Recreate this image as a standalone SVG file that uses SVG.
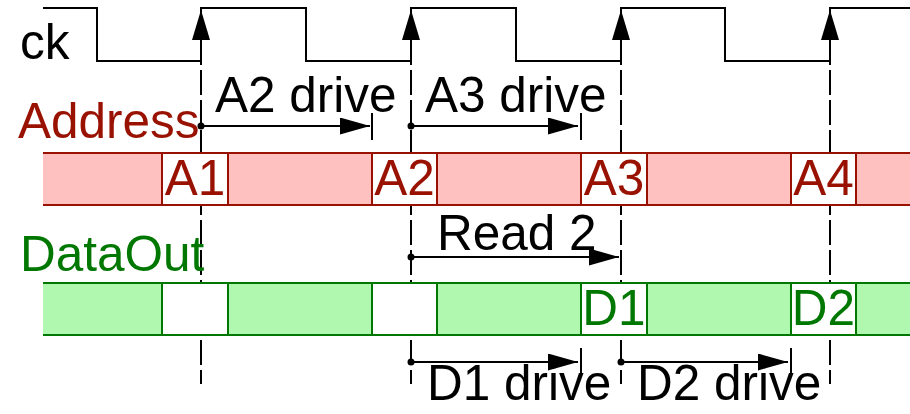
<svg xmlns="http://www.w3.org/2000/svg" width="910" height="414" viewBox="0 0 910 414">
  <style>
    text { font-family: "Liberation Sans", Arial, sans-serif; font-size: 49.5px; }
    .blk { fill: #000000; }
    .red { fill: #991100; }
    .grn { fill: #007700; }
    .wire { fill: none; stroke: #000000; stroke-width: 2; }
    .dash { fill: none; stroke: #000000; stroke-width: 2; stroke-dasharray: 25 5; }
    .abus { fill: #ffc0c0; }
    .dbus { fill: #b0f8b0; }
    .aedge { stroke: #991100; stroke-width: 2; fill: none; }
    .dedge { stroke: #007700; stroke-width: 2; fill: none; }
    .abox { fill: #ffffff; stroke: #991100; stroke-width: 2; }
    .dbox { fill: #ffffff; stroke: #007700; stroke-width: 2; }
    .head { fill: #000000; }
  </style>
  <defs>
    <marker id="arr" viewBox="0 0 30 17" refX="30" refY="8.5" markerWidth="30" markerHeight="17" markerUnits="userSpaceOnUse" orient="auto">
      <path d="M0,0 L30,8.5 L0,17 Z" fill="#000000"/>
    </marker>
    <marker id="dot" viewBox="0 0 8 8" refX="4" refY="4" markerWidth="8" markerHeight="8" markerUnits="userSpaceOnUse">
      <circle cx="4" cy="4" r="3.5" fill="#000000"/>
    </marker>
  </defs>

  <!-- clock edge guide lines -->
  <g id="edges">
    <line class="dash" x1="201" y1="10" x2="201" y2="384"/>
    <line class="dash" x1="411" y1="10" x2="411" y2="384"/>
    <line class="dash" x1="621" y1="10" x2="621" y2="384"/>
    <line class="dash" x1="830" y1="10" x2="830" y2="384"/>
  </g>

  <!-- clock waveform -->
  <g id="ck">
    <text class="blk" x="20" y="59">ck</text>
    <polyline class="wire" points="43,8 97,8 97,61 201,61 201,8 306,8 306,61 411,61 411,8 516,8 516,61 621,61 621,8 725,8 725,61 830,61 830,8 910,8"/>
    <path class="head" d="M201,10 L192,40 L210,40 Z"/>
    <path class="head" d="M411,10 L402,40 L420,40 Z"/>
    <path class="head" d="M621,10 L612,40 L630,40 Z"/>
    <path class="head" d="M830,10 L821,40 L839,40 Z"/>
  </g>

  <!-- address bus -->
  <g id="address">
    <text class="red" x="18" y="138">Address</text>
    <rect class="abus" x="43" y="153" width="880" height="52"/>
    <line class="aedge" x1="43" y1="153" x2="910" y2="153"/>
    <line class="aedge" x1="43" y1="205" x2="910" y2="205"/>
    <rect class="abox" x="162" y="153" width="66" height="52"/>
    <rect class="abox" x="372" y="153" width="65" height="52"/>
    <rect class="abox" x="581" y="153" width="66" height="52"/>
    <rect class="abox" x="791" y="153" width="65" height="52"/>
    <text class="red" x="195" y="195" text-anchor="middle">A1</text>
    <text class="red" x="404.5" y="195" text-anchor="middle">A2</text>
    <text class="red" x="614" y="195" text-anchor="middle">A3</text>
    <text class="red" x="823.5" y="195" text-anchor="middle">A4</text>
  </g>

  <!-- data out bus -->
  <g id="dataout">
    <text class="grn" x="20" y="271">DataOut</text>
    <rect class="dbus" x="43" y="283" width="880" height="52"/>
    <line class="dedge" x1="43" y1="283" x2="910" y2="283"/>
    <line class="dedge" x1="43" y1="335" x2="910" y2="335"/>
    <rect class="dbox" x="162" y="283" width="66" height="52"/>
    <rect class="dbox" x="372" y="283" width="65" height="52"/>
    <rect class="dbox" x="581" y="283" width="66" height="52"/>
    <rect class="dbox" x="791" y="283" width="65" height="52"/>
    <text class="grn" x="614" y="325" text-anchor="middle">D1</text>
    <text class="grn" x="823.5" y="325" text-anchor="middle">D2</text>
  </g>

  <!-- timing intervals -->
  <g id="connectors">
    <line class="wire" x1="201" y1="126" x2="370" y2="126" marker-start="url(#dot)" marker-end="url(#arr)"/>
    <line class="wire" x1="372" y1="113" x2="372" y2="140"/>
    <line class="wire" x1="411" y1="126" x2="578" y2="126" marker-start="url(#dot)" marker-end="url(#arr)"/>
    <line class="wire" x1="581" y1="113" x2="581" y2="140"/>
    <line class="wire" x1="411" y1="257" x2="619" y2="257" marker-start="url(#dot)" marker-end="url(#arr)"/>
    <line class="wire" x1="411" y1="362" x2="578" y2="362" marker-start="url(#dot)" marker-end="url(#arr)"/>
    <line class="wire" x1="581" y1="348" x2="581" y2="376"/>
    <line class="wire" x1="621" y1="362" x2="788" y2="362" marker-start="url(#dot)" marker-end="url(#arr)"/>
    <line class="wire" x1="791" y1="348" x2="791" y2="376"/>
  </g>

  <g id="labels">
    <text class="blk" x="215" y="112">A2 drive</text>
    <text class="blk" x="425" y="112">A3 drive</text>
    <text class="blk" x="437" y="250">Read 2</text>
    <text class="blk" x="427" y="400">D1 drive</text>
    <text class="blk" x="637" y="400">D2 drive</text>
  </g>
</svg>
